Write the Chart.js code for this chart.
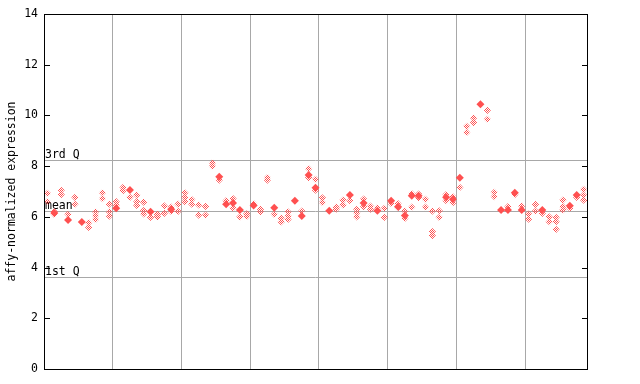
<!DOCTYPE html>
<html>
<head>
<meta charset="utf-8">
<script src="https://cdn.jsdelivr.net/npm/chart.js@4/dist/chart.umd.min.js"></script>
<style>
html,body{margin:0;padding:0;background:#fff;}
canvas{display:block;}
</style>
</head>
<body>
<canvas id="c" width="640" height="384"></canvas>
<script>
// ---- data ----
const sampleCount = 79;
const groupBreaks = [10, 20, 30, 40, 50, 60, 70];
const yTickValues = [0, 2, 4, 6, 8, 10, 12, 14];
const quartileLabels = ['3rd Q', 'mean', '1st Q'];
const quartileValues = [8.23, 6.23, 3.62];
const yAxisLabel = 'affy-normalized expression';

// replicate values drawn as light (dithered) diamonds, one list per sample
const lightValues = [
  [6.93, 6.6], [6.2, 6.1], [7.05, 6.88], [6.1], [6.77, 6.5],
  [], [5.77, 5.58], [6.2, 6.05, 5.9], [6.95, 6.72], [6.5, 6.2, 6.03],
  [6.6, 6.47], [7.16, 7.03], [6.77], [6.86, 6.6, 6.45], [6.58, 6.25, 6.12],
  [5.98], [6.1, 6.0], [6.43, 6.14], [6.38, 6.22], [6.5, 6.22],
  [6.95, 6.77, 6.6], [6.68, 6.5], [6.47, 6.07], [6.41, 6.07], [8.13, 8.0],
  [7.45], [6.64], [6.72, 6.35], [6.0], [6.12, 6.02],
  [6.52], [6.3, 6.2], [7.55, 7.45], [6.1], [5.95, 5.8],
  [6.2, 6.03, 5.9], [], [6.23], [7.9, 7.55], [7.48, 7.05],
  [6.75, 6.57], [], [6.38, 6.3], [6.66, 6.47], [6.64],
  [6.3, 6.16, 6.0], [6.7, 6.4], [6.42, 6.3], [6.36], [6.34, 5.98],
  [6.53], [6.52, 6.36], [6.23, 5.94], [6.92, 6.38], [6.9, 6.75],
  [6.69, 6.38], [6.23, 5.42, 5.26], [6.24, 5.98], [6.88, 6.64], [6.79, 6.56],
  [7.16], [9.57, 9.33], [9.9, 9.72], [], [10.2, 9.85],
  [6.97, 6.8], [], [6.4], [6.88], [6.43],
  [6.11, 5.91], [6.49, 6.23], [6.14], [6.0, 5.81], [5.98, 5.81, 5.51],
  [6.66, 6.4, 6.27], [6.34], [6.77], [7.08, 6.86, 6.66]
];
// solid diamonds: sample index and value
const solidSamples = [1, 3, 5, 10, 12, 15, 18, 25, 26, 27, 28, 30, 33, 36, 37, 38, 39, 41, 44, 46, 48, 50, 51, 52, 53, 54, 58, 59, 60, 63, 66, 67, 68, 69, 72, 76, 77];
const solidValues  = [6.15, 5.88, 5.8, 6.34, 7.06, 6.2, 6.3, 7.58, 6.5, 6.55, 6.27, 6.45, 6.36, 6.64, 6.03, 7.65, 7.15, 6.24, 6.86, 6.55, 6.24, 6.64, 6.4, 6.05, 6.83, 6.83, 6.77, 6.69, 7.54, 10.44, 6.27, 6.27, 6.95, 6.27, 6.27, 6.44, 6.86];

// ---- build ----
const RED = 'rgb(255,80,80)';
const canvas = document.getElementById('c');
const ctx0 = canvas.getContext('2d');
function checker(color) {
  const c = document.createElement('canvas');
  c.width = 2; c.height = 2;
  const g = c.getContext('2d');
  g.fillStyle = color;
  g.fillRect(0, 0, 1, 1);
  g.fillRect(1, 1, 1, 1);
  return ctx0.createPattern(c, 'repeat');
}
const lightData = [];
lightValues.forEach((vals, i) => vals.forEach(v => lightData.push({x: i + 0.5, y: v})));
const solidData = solidSamples.map((s, k) => ({x: s + 0.5, y: solidValues[k]}));

const FONT_CSS = '11.5px "DejaVu Sans Mono", monospace';
const FONT = {family: '"DejaVu Sans Mono", monospace', size: 11.5};

const framePlugin = {
  id: 'frame',
  beforeDatasetsDraw(chart) {
    const {ctx, chartArea: a, scales: {y}} = chart;
    ctx.save();
    ctx.strokeStyle = '#a8a8a8';
    ctx.lineWidth = 1;
    quartileValues.forEach((q, i) => {
      const py = Math.round(y.getPixelForValue(q)) + 0.5;
      ctx.beginPath(); ctx.moveTo(a.left, py); ctx.lineTo(a.right, py); ctx.stroke();
      ctx.fillStyle = '#000';
      ctx.font = FONT_CSS;
      ctx.textAlign = 'left';
      ctx.textBaseline = 'bottom';
      ctx.fillText(quartileLabels[i], a.left + 1, py + 0.5);
    });
    ctx.restore();
  },
  afterDraw(chart) {
    const {ctx, chartArea: a, scales: {y}} = chart;
    ctx.save();
    ctx.strokeStyle = '#000';
    ctx.lineWidth = 1;
    ctx.strokeRect(Math.round(a.left) + 0.5, Math.round(a.top) + 0.5, Math.round(a.right - a.left), Math.round(a.bottom - a.top));
    yTickValues.forEach(v => {
      const py = Math.round(y.getPixelForValue(v)) + 0.5;
      ctx.beginPath();
      ctx.moveTo(a.left, py); ctx.lineTo(a.left + 6, py);
      ctx.moveTo(a.right - 5, py); ctx.lineTo(a.right, py);
      ctx.stroke();
    });
    ctx.fillStyle = '#000';
    ctx.font = FONT_CSS;
    ctx.textAlign = 'center';
    ctx.textBaseline = 'middle';
    ctx.translate(12, (a.top + a.bottom) / 2);
    ctx.rotate(-Math.PI / 2);
    ctx.fillText(yAxisLabel, 0, 0);
    ctx.restore();
  }
};

new Chart(canvas, {
  type: 'scatter',
  data: {
    datasets: [
      {data: lightData, pointStyle: 'rectRot', pointRadius: 3.6, backgroundColor: checker(RED), borderWidth: 0},
      {data: solidData, pointStyle: 'rectRot', pointRadius: 4, backgroundColor: RED, borderWidth: 0}
    ]
  },
  options: {
    responsive: false,
    animation: false,
    devicePixelRatio: 1,
    events: [],
    layout: {padding: {left: 0, right: 53, top: 14, bottom: 15}},
    plugins: {legend: {display: false}, tooltip: {enabled: false}},
    scales: {
      x: {
        type: 'linear', min: 0, max: sampleCount,
        afterBuildTicks: s => { s.ticks = groupBreaks.map(v => ({value: v})); },
        afterFit: s => { s.height = 0; },
        ticks: {display: false},
        grid: {color: '#a8a8a8', lineWidth: 1, drawTicks: false},
        border: {display: false}
      },
      y: {
        type: 'linear', min: 0, max: 14,
        afterBuildTicks: s => { s.ticks = yTickValues.map(v => ({value: v})); },
        afterFit: s => { s.width = 44; },
        ticks: {color: '#000', font: FONT, padding: 6},
        grid: {display: false, drawTicks: false},
        border: {display: false}
      }
    }
  },
  plugins: [framePlugin]
});
</script>
</body>
</html>
